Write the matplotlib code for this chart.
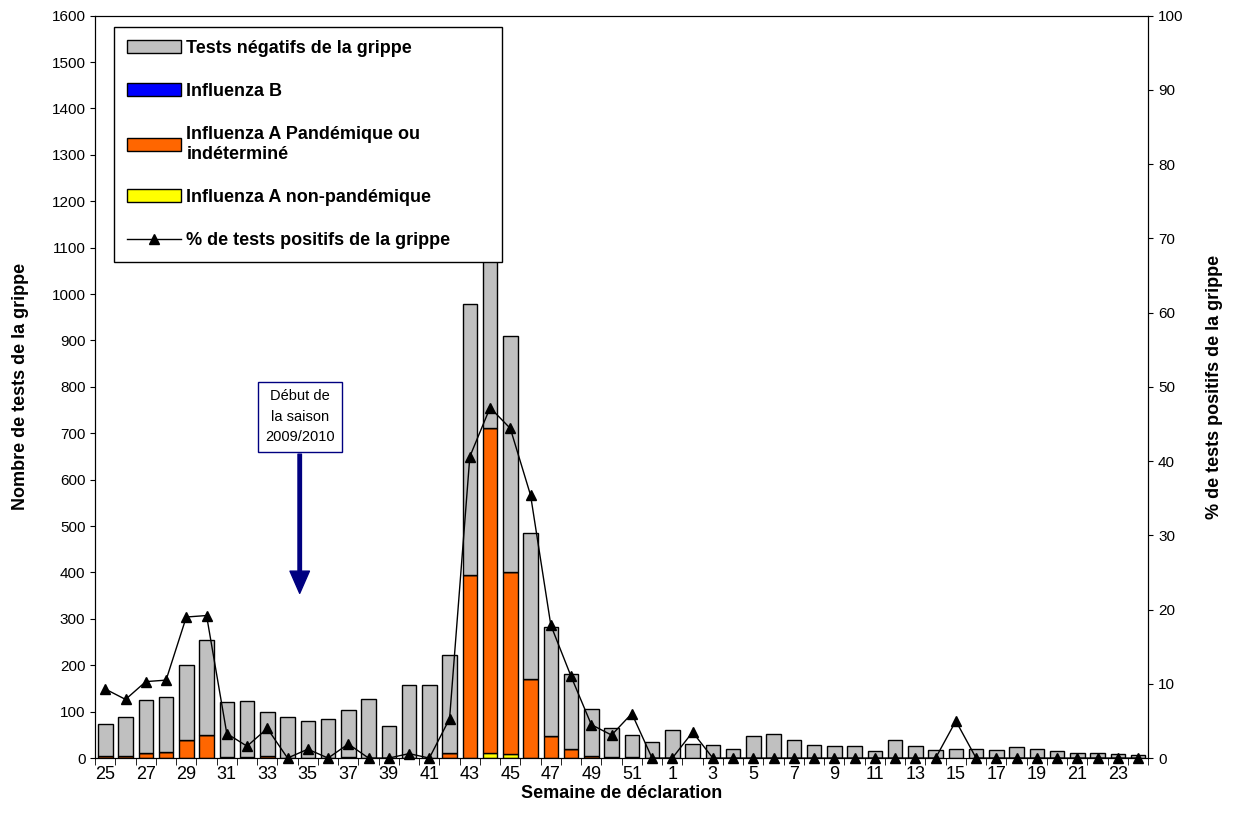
import numpy as np
import matplotlib.pyplot as plt
from matplotlib.lines import Line2D

plt.rcParams['font.family'] = ['Liberation Sans', 'DejaVu Sans']

weeks = list(range(25, 53)) + list(range(1, 25))
totals = [73, 88, 126, 132, 200, 255, 121, 123, 100, 88, 80, 85, 103, 128, 70, 158, 158, 222,
          978, 1530, 910, 485, 282, 182, 105, 65, 50, 35, 60, 30, 28, 20, 47, 52, 40, 28,
          26, 26, 15, 40, 26, 17, 20, 20, 17, 23, 20, 15, 12, 12, 8, 6]
pandemic = [5, 5, 10, 13, 38, 50, 2, 2, 4, 0, 1, 0, 2, 0, 0, 1, 0, 10,
            395, 702, 394, 170, 48, 20, 5, 2, 3, 0, 0, 1, 0, 0, 0, 0, 0, 0,
            0, 0, 0, 0, 0, 0, 1, 0, 0, 0, 0, 0, 0, 0, 0, 0]
non_pandemic = [0] * 19 + [10, 8] + [0] * 31
influenza_b = [0] * 52
pct_pos = [9.3, 7.9, 10.3, 10.5, 19.0, 19.2, 3.3, 1.6, 4.0, 0, 1.2, 0, 1.9, 0, 0, 0.6, 0, 5.3,
           40.6, 47.2, 44.4, 35.4, 17.9, 11.0, 4.5, 3.1, 6.0, 0, 0, 3.5, 0, 0, 0, 0, 0, 0,
           0, 0, 0, 0, 0, 0, 5.0, 0, 0, 0, 0, 0, 0, 0, 0, 0]

totals = np.array(totals)
pandemic = np.array(pandemic)
non_pandemic = np.array(non_pandemic)
influenza_b = np.array(influenza_b)
negatives = totals - pandemic - non_pandemic - influenza_b

x = np.arange(len(weeks))
fig, ax = plt.subplots(figsize=(12.36, 8.24), dpi=100)
fig.subplots_adjust(left=0.077, right=0.929, top=0.981, bottom=0.08)

w = 0.72
kw = dict(width=w, edgecolor='black', linewidth=1)
ax.bar(x, non_pandemic, color='#FFFF00', **kw)
ax.bar(x, pandemic, bottom=non_pandemic, color='#FF6600', **kw)
ax.bar(x, influenza_b, bottom=non_pandemic + pandemic, color='#0000FF', **kw)
ax.bar(x, negatives, bottom=non_pandemic + pandemic + influenza_b, color='#C0C0C0', **kw)

ax.set_xlim(-0.5, len(weeks) - 0.5)
ax.set_ylim(0, 1600)
ax.set_yticks(range(0, 1601, 100))
ax.set_xticks(x[::2])
ax.set_xticklabels([str(weeks[i]) for i in x[::2]], fontsize=13)
ax.set_xticks(np.arange(-0.5, len(weeks), 1), minor=True)
ax.tick_params(axis='x', which='major', length=0, pad=6)
ax.tick_params(axis='x', which='minor', length=5, direction='out')
ax.tick_params(axis='y', labelsize=11)
ax.set_xlabel('Semaine de déclaration', fontsize=13, fontweight='bold', labelpad=1)
ax.set_ylabel('Nombre de tests de la grippe', fontsize=13, fontweight='bold', labelpad=16)

ax2 = ax.twinx()
ax2.plot(x, pct_pos, color='black', linewidth=1, marker='^', markersize=7, clip_on=False)
ax2.set_ylim(0, 100)
ax2.set_yticks(range(0, 101, 10))
ax2.tick_params(axis='y', labelsize=11)
ax2.set_ylabel('% de tests positifs de la grippe', fontsize=13, fontweight='bold', labelpad=16)

# start of season annotation
ax.annotate('', xy=(9.6, 355), xytext=(9.6, 655),
            arrowprops=dict(facecolor='#000080', edgecolor='#000080', width=2.5,
                            headwidth=14, headlength=16))
ax.text(9.6, 795, 'Début de\nla saison\n2009/2010', ha='center', va='top', fontsize=10.5,
        linespacing=1.6,
        bbox=dict(boxstyle='square,pad=0.5', facecolor='white', edgecolor='#000080'))

handles = [
    plt.Rectangle((0, 0), 1, 1, facecolor='#C0C0C0', edgecolor='black'),
    plt.Rectangle((0, 0), 1, 1, facecolor='#0000FF', edgecolor='black'),
    plt.Rectangle((0, 0), 1, 1, facecolor='#FF6600', edgecolor='black'),
    plt.Rectangle((0, 0), 1, 1, facecolor='#FFFF00', edgecolor='black'),
    Line2D([], [], color='black', marker='^', markersize=7, linewidth=1),
]
labels = ['Tests négatifs de la grippe', 'Influenza B',
          'Influenza A Pandémique ou\nindéterminé', 'Influenza A non-pandémique',
          '% de tests positifs de la grippe']
leg = ax2.legend(handles, labels, loc='upper left', bbox_to_anchor=(0.0095, 0.997, 0.385, 0.0),
                 mode='expand', fancybox=False, edgecolor='black', framealpha=1,
                 prop={'weight': 'bold', 'size': 13}, labelspacing=1.45,
                 handlelength=3, handletextpad=0.3, borderpad=0.7)
leg.get_frame().set_linewidth(1)
leg.set_zorder(10)

fig.savefig('out.png', dpi=100)
